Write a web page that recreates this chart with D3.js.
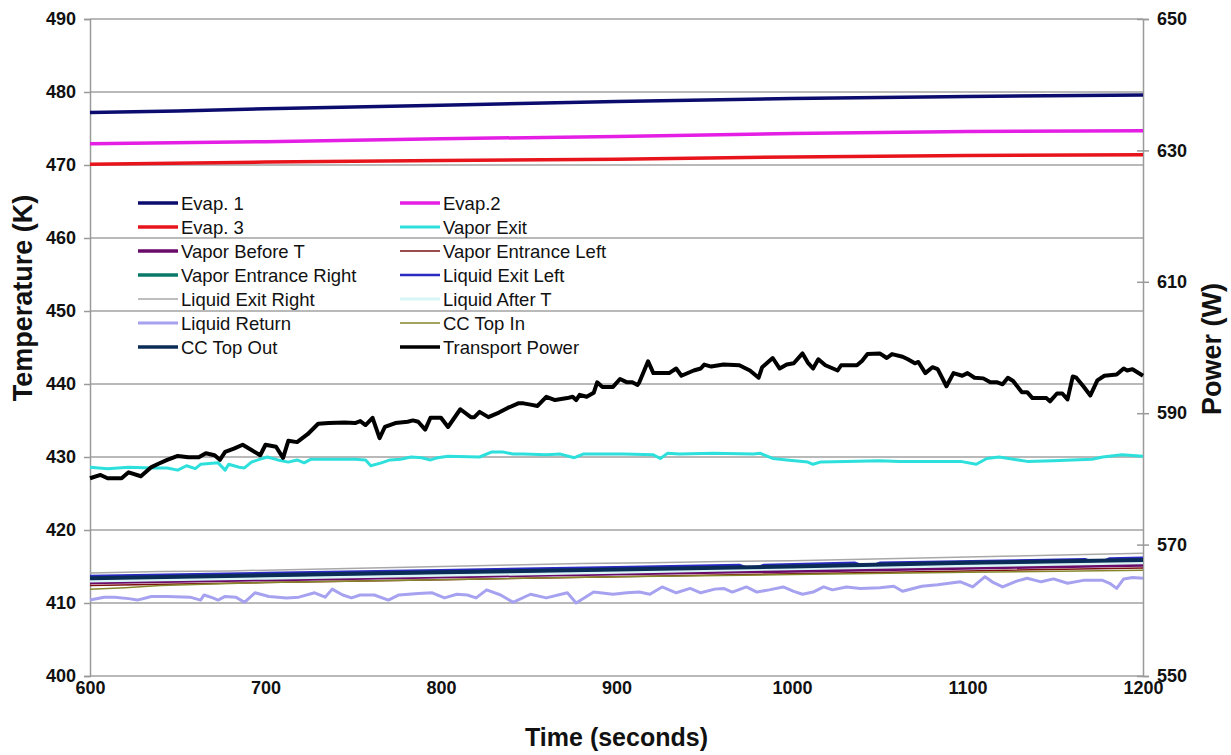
<!DOCTYPE html>
<html>
<head>
<meta charset="utf-8">
<script src="https://cdn.jsdelivr.net/npm/d3@7"></script>
<style>
  body { margin: 0; background: #fff; }
  text { font-family: Arial, "Liberation Sans", sans-serif; fill: #111; }
</style>
</head>
<body>
<svg id="chart" width="1231" height="755"></svg>
<script>
// axis ticks
const timeTicks = [600, 700, 800, 900, 1000, 1100, 1200];
const tempTicks = [400, 410, 420, 430, 440, 450, 460, 470, 480, 490];
const powerTicks = [550, 570, 590, 610, 630, 650];

// temperatures (K), [time s, value]
const evap1 = [[600, 477.2], [650, 477.4], [700, 477.7], [800, 478.2], [900, 478.7], [1000, 479.1], [1100, 479.4], [1200, 479.6]];
const evap2 = [[600, 472.9], [700, 473.2], [800, 473.6], [900, 473.9], [1000, 474.3], [1100, 474.6], [1200, 474.7]];
const evap3 = [[600, 470.1], [700, 470.4], [800, 470.6], [900, 470.8], [1000, 471.1], [1100, 471.3], [1200, 471.4]];

const vaporExit = [[600, 428.6], [610, 428.4], [622, 428.6], [635, 428.5], [644, 428.5], [650, 428.2], [655, 428.8], [660, 428.4],
  [663, 429.0], [673, 429.2], [677, 428.2], [679, 429.0], [685, 428.6], [688, 428.5], [692, 429.3], [697, 429.7], [701, 430.0],
  [707, 429.6], [713, 429.3], [718, 429.6], [722, 429.2], [726, 429.7], [740, 429.7], [751, 429.7], [757, 429.6], [760, 428.8],
  [766, 429.2], [771, 429.6], [777, 429.7], [783, 430.0], [789, 429.9], [794, 429.6], [798, 429.9], [804, 430.1], [822, 430.0],
  [829, 430.7], [835, 430.7], [841, 430.4], [847, 430.4], [860, 430.3], [868, 430.4], [876, 429.9], [881, 430.4], [895, 430.4],
  [904, 430.4], [921, 430.3], [925, 429.8], [929, 430.5], [936, 430.4], [955, 430.5], [978, 430.4], [982, 430.5], [989, 429.8],
  [997, 429.6], [1009, 429.3], [1012, 429.0], [1016, 429.3], [1031, 429.4], [1050, 429.5], [1061, 429.4], [1077, 429.4],
  [1096, 429.4], [1105, 429.0], [1111, 429.8], [1118, 430.0], [1134, 429.4], [1149, 429.5], [1171, 429.7], [1177, 430.0],
  [1188, 430.3], [1200, 430.1]];

const vaporBeforeT = [[600, 412.8], [700, 413.2], [800, 413.6], [900, 414.0], [1000, 414.4], [1100, 414.8], [1200, 415.2]];
const vaporEntranceLeft = [[600, 412.4], [700, 412.8], [800, 413.2], [900, 413.6], [1000, 414.0], [1100, 414.4], [1200, 414.8]];
const vaporEntranceRight = [[600, 413.2], [700, 413.6], [800, 414.0], [900, 414.4], [1000, 414.9], [1100, 415.3], [1200, 415.7]];
const liquidExitLeft = [[600, 413.7], [700, 414.1], [800, 414.5], [900, 414.9], [970, 415.2], [977, 414.6], [984, 415.2],
  [1036, 415.5], [1043, 414.9], [1050, 415.5], [1167, 416.0], [1174, 415.4], [1181, 416.1], [1200, 416.2]];
const liquidExitRight = [[600, 414.1], [640, 414.3], [680, 414.4], [720, 414.6], [760, 414.8], [800, 415.0], [840, 415.2],
  [880, 415.4], [920, 415.5], [960, 415.7], [1000, 415.8], [1040, 416.0], [1080, 416.2], [1120, 416.4], [1160, 416.6], [1200, 416.8]];
const liquidAfterT = [[600, 413.0], [700, 413.4], [800, 413.8], [900, 414.2], [1000, 414.7], [1100, 415.1], [1200, 415.5]];
const liquidReturn = [[600, 410.4], [608, 410.8], [614, 410.8], [622, 410.6], [627, 410.4], [635, 410.9], [644, 410.9],
  [657, 410.8], [663, 410.4], [665, 411.1], [670, 410.7], [673, 410.4], [677, 410.9], [683, 410.8], [688, 410.1], [694, 411.4],
  [702, 410.9], [712, 410.7], [719, 410.8], [728, 411.4], [734, 410.8], [738, 411.9], [744, 411.1], [749, 410.7], [754, 411.1],
  [762, 411.1], [770, 410.4], [776, 411.1], [787, 411.3], [795, 411.4], [802, 410.7], [809, 411.2], [815, 411.1], [820, 410.7],
  [826, 411.8], [834, 411.1], [841, 410.1], [851, 411.2], [860, 410.7], [872, 411.4], [877, 410.0], [887, 411.5], [898, 411.2],
  [906, 411.4], [913, 411.5], [919, 411.2], [926, 412.2], [934, 411.4], [942, 412.0], [948, 411.4], [956, 411.9], [961, 412.0],
  [966, 411.5], [974, 412.2], [980, 411.5], [987, 411.8], [995, 412.2], [1001, 411.6], [1006, 411.2], [1012, 411.5], [1018, 412.2],
  [1023, 411.8], [1031, 412.2], [1039, 412.0], [1050, 412.1], [1058, 412.3], [1063, 411.6], [1074, 412.3], [1083, 412.5],
  [1096, 412.9], [1103, 412.2], [1110, 413.6], [1114, 412.9], [1120, 412.2], [1128, 413.0], [1134, 413.4], [1142, 412.9],
  [1149, 413.3], [1157, 412.7], [1166, 413.1], [1177, 413.1], [1181, 412.7], [1185, 412.0], [1189, 413.3], [1194, 413.5], [1200, 413.4]];
const ccTopIn = [[600, 411.9], [620, 412.1], [640, 412.4], [700, 412.8], [800, 413.2], [900, 413.6], [1000, 413.9], [1100, 414.2], [1200, 414.5]];
const ccTopOut = [[600, 413.4], [700, 413.8], [800, 414.2], [900, 414.6], [1000, 415.0], [1100, 415.5], [1200, 415.9]];

// transport power (W), right axis
const transportPower = [[600, 580.1], [606, 580.6], [610, 580.1], [618, 580.1], [622, 581.0], [629, 580.4], [635, 581.8],
  [639, 582.3], [644, 582.9], [650, 583.5], [656, 583.3], [662, 583.3], [666, 583.9], [671, 583.6], [674, 582.9], [677, 584.1],
  [682, 584.6], [687, 585.2], [692, 584.4], [697, 583.6], [700, 585.2], [706, 584.9], [710, 583.2], [713, 585.8], [718, 585.6],
  [724, 586.8], [730, 588.4], [736, 588.5], [745, 588.6], [751, 588.5], [754, 588.8], [757, 588.2], [761, 589.3], [765, 586.2],
  [768, 587.9], [774, 588.5], [781, 588.7], [784, 588.9], [787, 588.7], [791, 587.5], [794, 589.3], [800, 589.3], [804, 587.9],
  [811, 590.6], [817, 589.4], [819, 589.4], [822, 590.2], [827, 589.4], [833, 590.1], [838, 590.8], [844, 591.5], [847, 591.5],
  [851, 591.3], [855, 591.1], [860, 592.5], [865, 592.0], [872, 592.3], [875, 592.5], [877, 592.0], [879, 592.8], [883, 592.5],
  [887, 593.1], [889, 594.7], [892, 594.0], [898, 594.0], [902, 595.2], [906, 594.7], [909, 594.7], [912, 594.3], [913, 594.7],
  [918, 597.9], [921, 596.1], [926, 596.1], [930, 596.1], [934, 596.8], [937, 595.7], [944, 596.5], [948, 596.8], [950, 597.4],
  [954, 597.1], [961, 597.4], [970, 597.3], [976, 596.5], [981, 595.4], [983, 597.0], [989, 598.4], [993, 596.8], [997, 597.4],
  [1001, 597.6], [1006, 599.1], [1009, 597.7], [1012, 596.8], [1015, 598.2], [1019, 597.3], [1026, 596.5], [1028, 597.3],
  [1037, 597.3], [1040, 598.0], [1043, 599.0], [1050, 599.1], [1054, 598.4], [1057, 599.0], [1063, 598.6], [1066, 598.2],
  [1070, 597.6], [1072, 597.8], [1076, 596.1], [1080, 597.0], [1083, 596.7], [1088, 594.1], [1092, 596.1], [1097, 595.7],
  [1100, 596.1], [1104, 595.4], [1109, 595.3], [1113, 594.7], [1117, 594.7], [1120, 594.4], [1123, 595.4], [1126, 594.9],
  [1131, 593.2], [1134, 593.2], [1137, 592.3], [1145, 592.3], [1147, 591.8], [1151, 593.0], [1154, 593.0], [1157, 592.1],
  [1160, 595.6], [1162, 595.4], [1166, 594.1], [1170, 592.7], [1174, 595.0], [1178, 595.7], [1185, 595.9], [1189, 596.8],
  [1191, 596.5], [1194, 596.7], [1200, 595.7]];

// series in Excel draw/legend order
const series = [
  { name: 'Evap. 1', data: evap1, color: '#0c0c6e', width: 3.5 },
  { name: 'Evap.2', data: evap2, color: '#e41ee4', width: 3.5 },
  { name: 'Evap. 3', data: evap3, color: '#e8141c', width: 3.5 },
  { name: 'Vapor Exit', data: vaporExit, color: '#2ee0dc', width: 3 },
  { name: 'Vapor Before T', data: vaporBeforeT, color: '#6a0a6a', width: 3.5 },
  { name: 'Vapor Entrance Left', data: vaporEntranceLeft, color: '#7a1010', width: 1.5 },
  { name: 'Vapor Entrance Right', data: vaporEntranceRight, color: '#0a7a68', width: 3.5 },
  { name: 'Liquid Exit Left', data: liquidExitLeft, color: '#2a2ac4', width: 2.5 },
  { name: 'Liquid Exit Right', data: liquidExitRight, color: '#a8a8a8', width: 1.5 },
  { name: 'Liquid After T', data: liquidAfterT, color: '#d8f6f6', width: 3 },
  { name: 'Liquid Return', data: liquidReturn, color: '#a6a2f0', width: 3 },
  { name: 'CC Top In', data: ccTopIn, color: '#86862a', width: 1.5 },
  { name: 'CC Top Out', data: ccTopOut, color: '#0c2c58', width: 4 },
  { name: 'Transport Power', data: transportPower, color: '#000000', width: 4, right: true },
];

const svg = d3.select('#chart');
const plotLeft = 90, plotRight = 1143, plotTop = 19, plotBottom = 676;
const tickFont = 'bold 18px Arial, "Liberation Sans", sans-serif';

const x = d3.scaleLinear().domain([600, 1200]).range([plotLeft, plotRight]);
const yT = d3.scaleLinear().domain([400, 490]).range([plotBottom, plotTop]);
const yP = d3.scaleLinear().domain([550, 650]).range([plotBottom, plotTop]);

// gridlines
svg.append('g')
  .selectAll('line')
  .data(tempTicks)
  .join('line')
  .attr('x1', plotLeft)
  .attr('x2', plotRight)
  .attr('y1', (d) => yT(d))
  .attr('y2', (d) => yT(d))
  .attr('stroke', '#a2a2a2')
  .attr('stroke-width', 1.5);

// left axis
const axL = svg.append('g')
  .attr('transform', `translate(${plotLeft},0)`)
  .call(d3.axisLeft(yT).tickValues(tempTicks).tickSize(6).tickPadding(8));
axL.select('.domain').attr('stroke', '#9a9a9a').attr('stroke-width', 1.5);
axL.selectAll('.tick line').attr('stroke', '#9a9a9a').attr('stroke-width', 1.5);
axL.selectAll('.tick text').style('font', tickFont).attr('fill', '#111');

// right axis
const axR = svg.append('g')
  .attr('transform', `translate(${plotRight},0)`)
  .call(d3.axisRight(yP).tickValues(powerTicks).tickSize(6).tickPadding(8));
axR.select('.domain').attr('stroke', '#9a9a9a').attr('stroke-width', 1.5);
axR.selectAll('.tick line').attr('x1', -6).attr('stroke', '#9a9a9a').attr('stroke-width', 1.5);
axR.selectAll('.tick text').style('font', tickFont).attr('fill', '#111');

// bottom axis
const axB = svg.append('g')
  .attr('transform', `translate(0,${plotBottom})`)
  .call(d3.axisBottom(x).tickValues(timeTicks).tickFormat(d3.format('d')).tickSize(0).tickPadding(5));
axB.select('.domain').remove();
axB.selectAll('.tick text').style('font', tickFont).attr('fill', '#111');

// lines
const plot = svg.append('g');
series.forEach((s) => {
  const yScale = s.right ? yP : yT;
  const line = d3.line().x((d) => x(d[0])).y((d) => yScale(d[1]));
  plot.append('path')
    .datum(s.data)
    .attr('d', line)
    .attr('fill', 'none')
    .attr('stroke', s.color)
    .attr('stroke-width', s.width)
    .attr('stroke-linejoin', 'round');
});

// legend, two columns
const legend = svg.append('g');
series.forEach((s, i) => {
  const col = i % 2;
  const row = Math.floor(i / 2);
  const lx = col === 0 ? 138 : 400;
  const ly = 203 + row * 24;
  legend.append('line')
    .attr('x1', lx).attr('x2', lx + 40)
    .attr('y1', ly).attr('y2', ly)
    .attr('stroke', s.color)
    .attr('stroke-width', Math.min(s.width, 3.5));
  legend.append('text')
    .attr('x', lx + 43)
    .attr('y', ly)
    .attr('dy', '0.36em')
    .style('font-size', '18.5px')
    .text(s.name);
});

// axis titles
svg.append('text')
  .attr('x', (plotLeft + plotRight) / 2)
  .attr('y', 746)
  .attr('text-anchor', 'middle')
  .style('font', 'bold 25px Arial, "Liberation Sans", sans-serif')
  .text('Time (seconds)');

svg.append('text')
  .attr('transform', 'translate(32,298) rotate(-90)')
  .attr('text-anchor', 'middle')
  .style('font', 'bold 27px Arial, "Liberation Sans", sans-serif')
  .text('Temperature (K)');

svg.append('text')
  .attr('transform', 'translate(1221,349) rotate(-90)')
  .attr('text-anchor', 'middle')
  .style('font', 'bold 27px Arial, "Liberation Sans", sans-serif')
  .text('Power (W)');
</script>
</body>
</html>
